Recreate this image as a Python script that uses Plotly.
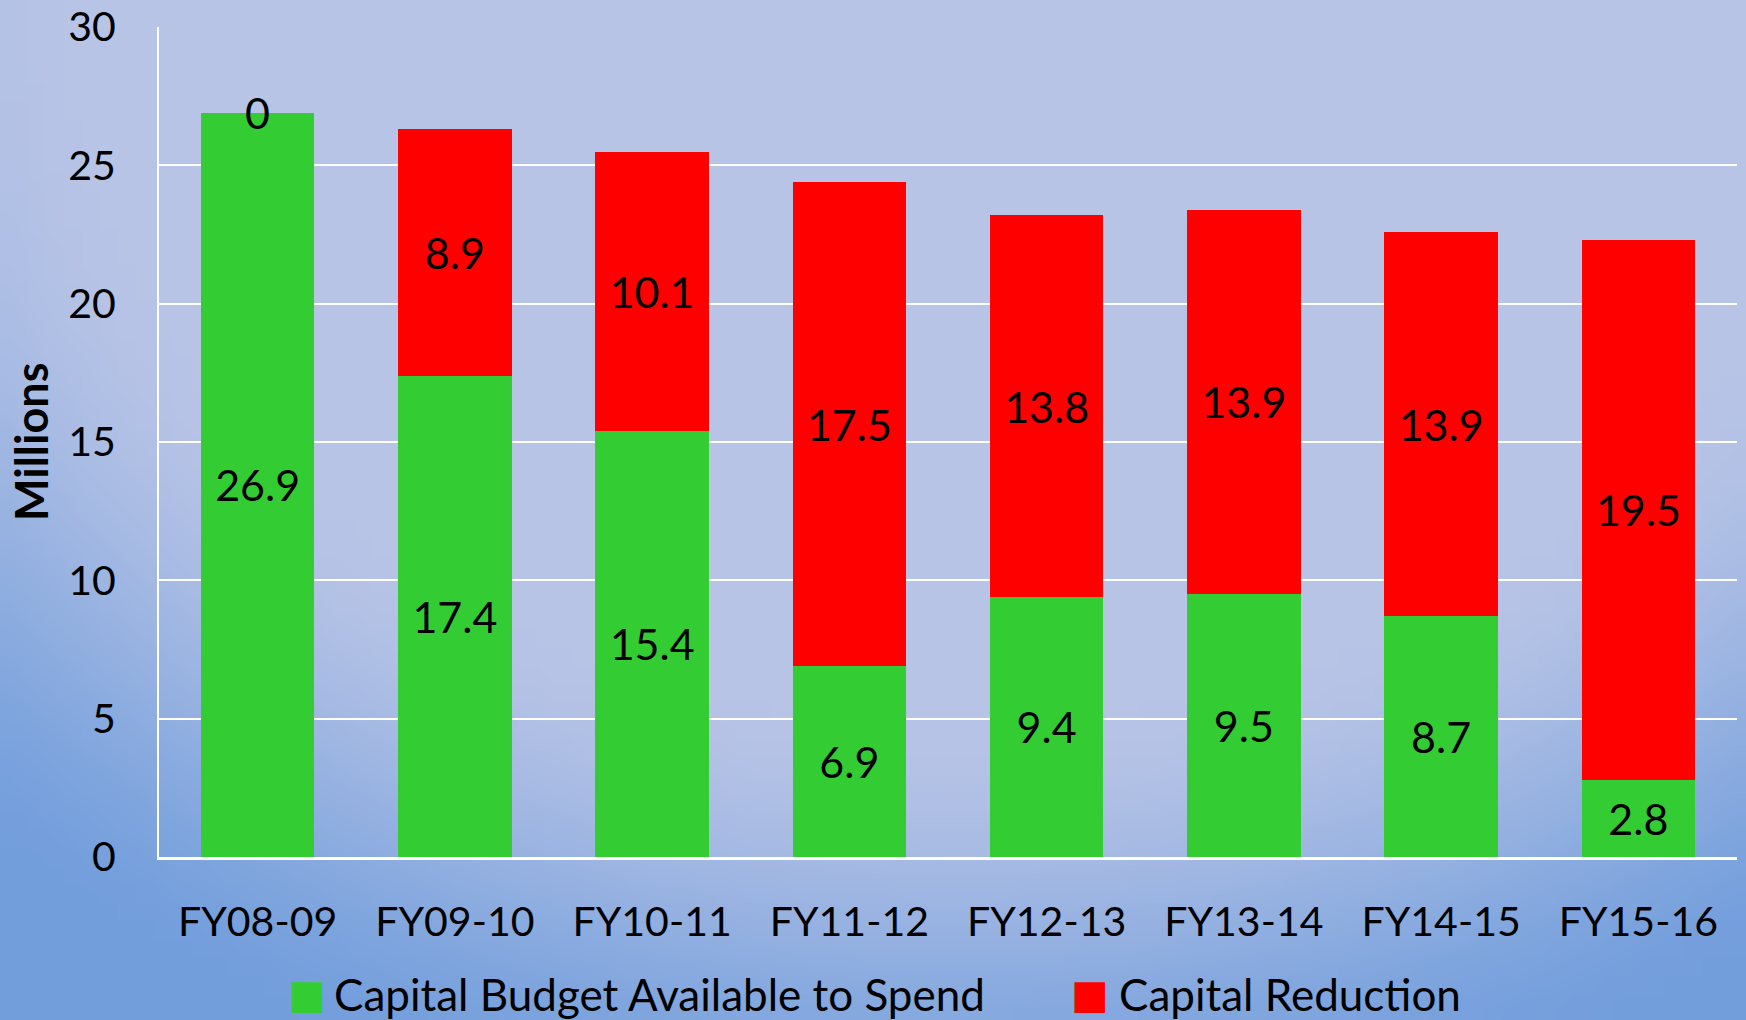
import zlib, struct, base64
import plotly.graph_objects as go

# ---- data ----
categories = ["FY08-09", "FY09-10", "FY10-11", "FY11-12", "FY12-13", "FY13-14", "FY14-15", "FY15-16"]
available = [26.9, 17.4, 15.4, 6.9, 9.4, 9.5, 8.7, 2.8]
reduction = [0, 8.9, 10.1, 17.5, 13.8, 13.9, 13.9, 19.5]
y_ticks = [0, 5, 10, 15, 20, 25, 30]
series_names = ["Capital Budget Available to Spend", "Capital Reduction"]

GREEN = "#33cc33"
RED = "#ff0000"
FONT = "Lato, 'Open Sans', sans-serif"

W, H = 1746, 1020
ML, MR, MT, MB = 159, 9, 27, 163
PW, PH = W - ML - MR, H - MT - MB


# ---- gradient background as a small PNG ----
def png_uri(w, h, fn):
    rows = []
    for j in range(h):
        row = bytearray([0])
        for i in range(w):
            row.extend(fn(i / (w - 1), j / (h - 1)))
        rows.append(bytes(row))
    raw = b"".join(rows)

    def chunk(tag, data):
        return struct.pack(">I", len(data)) + tag + data + struct.pack(">I", zlib.crc32(tag + data) & 0xffffffff)

    png = (b"\x89PNG\r\n\x1a\n"
           + chunk(b"IHDR", struct.pack(">IIBBBBB", w, h, 8, 2, 0, 0, 0))
           + chunk(b"IDAT", zlib.compress(raw, 9))
           + chunk(b"IEND", b""))
    return "data:image/png;base64," + base64.b64encode(png).decode()


C1 = (184, 196, 230)
C2 = (114, 158, 220)


def shade(x, y):
    d = (((x - 0.55) / 0.76) ** 2 + (y / 1.05) ** 2) ** 0.5
    t = min(max((d - 0.66) / 0.45, 0.0), 1.0)
    t = t * t * (3 - 2 * t)
    return [int(round(C1[k] + (C2[k] - C1[k]) * t)) for k in range(3)]


bg = png_uri(96, 56, shade)

fig = go.Figure()
fig.add_trace(go.Bar(
    x=categories, y=available, name=series_names[0],
    marker=dict(color=GREEN, line=dict(width=0)),
    text=[f"{v}" for v in available], textposition="inside",
    insidetextanchor="middle", textangle=0,
    textfont=dict(family=FONT, size=43, color="#000000"),
    showlegend=False,
))
fig.add_trace(go.Bar(
    x=categories, y=reduction, name=series_names[1],
    marker=dict(color=RED, line=dict(width=0)),
    text=["" if v == 0 else f"{v}" for v in reduction], textposition="inside",
    insidetextanchor="middle", textangle=0,
    textfont=dict(family=FONT, size=43, color="#000000"),
    showlegend=False,
))

# labels for zero-height segments, at the top of the stack
for c, a, r in zip(categories, available, reduction):
    if r == 0:
        fig.add_annotation(x=c, y=a + r, text=f"{r}", showarrow=False, yanchor="middle",
                           font=dict(family=FONT, size=43, color="#000000"))

# y-axis title
fig.add_annotation(xref="paper", yref="paper", x=(31 - ML) / PW, y=0.5, text="<b>Millions</b>",
                   textangle=-90, showarrow=False, xanchor="center", yanchor="middle",
                   font=dict(family=FONT, size=45, color="#000000"))

# legend (swatch + label) below the chart
leg_y = (857 - 994) / PH
for name, col, sw_x, tx_x in [(series_names[0], GREEN, 307, 332), (series_names[1], RED, 1090, 1117)]:
    fig.add_annotation(xref="paper", yref="paper", x=(sw_x - ML) / PW, y=leg_y, text="■",
                       showarrow=False, xanchor="center", yanchor="middle",
                       font=dict(family="DejaVu Sans", size=40, color=col))
    fig.add_annotation(xref="paper", yref="paper", x=(tx_x - ML) / PW, y=leg_y, text=name,
                       showarrow=False, xanchor="left", yanchor="middle",
                       font=dict(family=FONT, size=44, color="#000000"))

fig.update_layout(
    width=W, height=H,
    margin=dict(l=ML, r=MR, t=MT, b=MB, autoexpand=False),
    barmode="stack", bargap=0.424,
    paper_bgcolor="#b8c4e6", plot_bgcolor="rgba(0,0,0,0)",
    font=dict(family=FONT, color="#000000"),
    showlegend=False,
    images=[dict(source=bg, xref="paper", yref="paper", x=-ML / PW, y=1 + MT / PH,
                 sizex=W / PW, sizey=H / PH, sizing="stretch", layer="below",
                 xanchor="left", yanchor="top")],
    xaxis=dict(showgrid=False, showline=True, linecolor="#ffffff", linewidth=3,
               tickfont=dict(family=FONT, size=41, color="#000000"),
               ticklabelstandoff=27),
    yaxis=dict(range=[0, 30], tickvals=y_ticks, showgrid=True, gridcolor="#ffffff", gridwidth=2,
               showline=True, linecolor="#ffffff", linewidth=2, zeroline=False,
               tickfont=dict(family=FONT, size=41, color="#000000"),
               ticklabelstandoff=33),
)

fig.write_html("out.html")
